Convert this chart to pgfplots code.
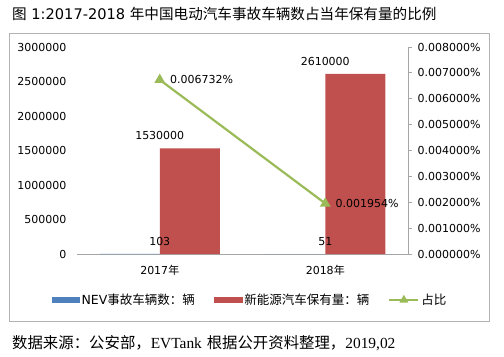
\documentclass[border=0pt]{standalone}
\usepackage{fontspec}
\setmainfont{DejaVu Sans}
\newfontfamily\cjk{Noto Sans CJK SC}
\newfontfamily\serifl{Liberation Serif}
\usepackage{pgfplots}
\pgfplotsset{compat=1.18}
\definecolor{nevblue}{HTML}{4F81BD}
\definecolor{nevred}{HTML}{C0504D}
\definecolor{nevgreen}{HTML}{9BBB59}
\newcommand{\tfont}{\fontsize{11bp}{13bp}\selectfont}
\begin{document}
\begin{tikzpicture}[x=1bp,y=1bp]
\path[use as bounding box] (0,0) rectangle (504,356);
\draw[gray!60, line width=0.8bp] (9.5,35) rectangle (489.5,323);
\node[anchor=west, inner sep=0] at (12,342) {\fontsize{14.6bp}{16bp}\selectfont{\cjk 图} 1:2017-2018 {\cjk 年中国电动汽车事故车辆数占当年保有量的比例}};
\node[anchor=west, inner sep=0] at (12,13) {\fontsize{15.4bp}{17bp}\selectfont{\cjk 数据来源：公安部，}{\serifl EVTank} {\cjk 根据公开资料整理，}{\serifl 2019,02}};

\begin{axis}[
 at={(77bp,102bp)}, anchor=south west, width=331bp, height=207bp, scale only axis,
 xmin=-0.5, xmax=1.5, ymin=0, ymax=3000000,
 xtick={0,1}, xticklabels={2017{\cjk 年},2018{\cjk 年}},
 ytick={0,500000,1000000,1500000,2000000,2500000,3000000},
 scaled y ticks=false,
 /pgf/number format/assume math mode=true,
 yticklabel style={/pgf/number format/fixed, /pgf/number format/1000 sep={}, font=\tfont, xshift=-7bp},
 xticklabel style={font=\tfont, yshift=-8bp},
 axis x line*=bottom, axis y line*=left,
 y axis line style={draw=none},
 x axis line style={gray!70, line width=0.8bp, -},
 tick style={draw=none},
 point meta=explicit symbolic, nodes near coords,
 every node near coord/.append style={font=\tfont, text=black, yshift=5bp},
]
\addplot[ybar, bar width=60bp, bar shift=-30bp, fill=nevblue, draw=none] coordinates {(0,103) [103] (1,51) [51]};
\addplot[ybar, bar width=60bp, bar shift=30bp, fill=nevred, draw=none] coordinates {(0,1530000) [1530000] (1,2610000) [2610000]};
\end{axis}

\begin{axis}[
 at={(77bp,102bp)}, anchor=south west, width=331bp, height=207bp, scale only axis,
 xmin=-0.5, xmax=1.5, ymin=0, ymax=0.008,
 axis x line=none, axis y line*=right,
 y axis line style={gray!70, line width=0.8bp, -},
 ytick={0,0.001,0.002,0.003,0.004,0.005,0.006,0.007,0.008},
 scaled y ticks=false,
 /pgf/number format/assume math mode=true,
 yticklabel={\pgfmathprintnumber[fixed,fixed zerofill,precision=6]{\tick}\%},
 yticklabel style={font=\tfont, xshift=2bp},
 tick align=outside, major tick length=4bp,
 ytick style={gray!70, line width=0.8bp},
 legend style={at={(-0.0755,-0.222)}, anchor=west, legend columns=3, draw=none, fill=none, inner sep=0pt,
   font=\fontsize{12.5bp}{14bp}\selectfont, /tikz/every even column/.append style={column sep=17bp}},
 legend cell align=left,
]
\addlegendimage{legend image code/.code={\fill[nevblue] (0bp,-2.5bp) rectangle (27bp,2.5bp);}}
\addlegendentry{NEV{\cjk 事故车辆数：辆}}
\addlegendimage{legend image code/.code={\fill[nevred] (0bp,-2.5bp) rectangle (28bp,2.5bp);}}
\addlegendentry{{\cjk 新能源汽车保有量：辆}}
\addplot[nevgreen, line width=2.2bp, mark=triangle*, mark size=4bp,
  point meta=explicit symbolic, nodes near coords,
  every node near coord/.append style={anchor=west, xshift=6bp, text=black, font=\tfont},
  legend image code/.code={\draw[nevgreen, line width=2.2bp, mark=triangle*, mark size=3bp, mark repeat=2, mark phase=2] plot coordinates {(0bp,0bp) (14.5bp,0bp) (29bp,0bp)};}]
  coordinates {(0,0.006732) [0.006732\%] (1,0.001954) [0.001954\%]};
\addlegendentry{{\cjk 占比}}
\end{axis}
\end{tikzpicture}
\end{document}
